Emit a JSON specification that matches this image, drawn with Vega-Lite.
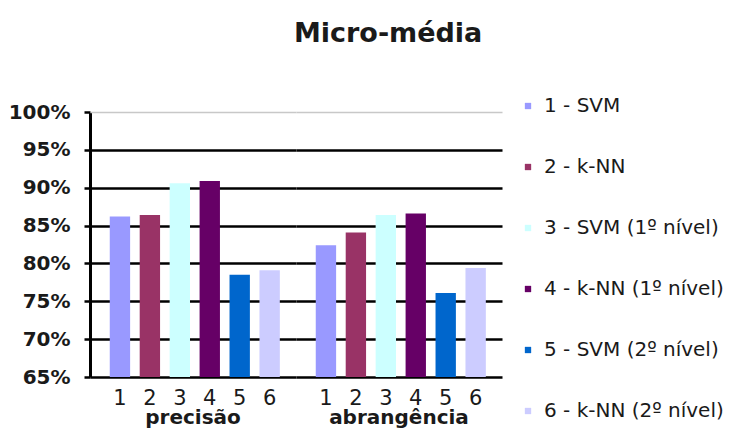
{
  "$schema": "https://vega.github.io/schema/vega-lite/v6.json",
  "background": "white",
  "padding": {"left": 8, "top": 20, "right": 2, "bottom": 0},
  "title": {
    "text": "Micro-média",
    "font": "DejaVu Sans",
    "fontSize": 27,
    "fontWeight": "bold",
    "color": "#1a1a1a",
    "anchor": "middle",
    "dx": 22,
    "offset": 48
  },
  "data": {
    "values": [
      {"grupo": "precisão", "n": "1", "serie": "1 - SVM", "valor": 86.2},
      {"grupo": "precisão", "n": "2", "serie": "2 - k-NN", "valor": 86.4},
      {"grupo": "precisão", "n": "3", "serie": "3 - SVM (1º nível)", "valor": 90.6},
      {"grupo": "precisão", "n": "4", "serie": "4 - k-NN (1º nível)", "valor": 90.9},
      {"grupo": "precisão", "n": "5", "serie": "5 - SVM (2º nível)", "valor": 78.5},
      {"grupo": "precisão", "n": "6", "serie": "6 - k-NN (2º nível)", "valor": 79.1},
      {"grupo": "abrangência", "n": "1", "serie": "1 - SVM", "valor": 82.4},
      {"grupo": "abrangência", "n": "2", "serie": "2 - k-NN", "valor": 84.1},
      {"grupo": "abrangência", "n": "3", "serie": "3 - SVM (1º nível)", "valor": 86.4},
      {"grupo": "abrangência", "n": "4", "serie": "4 - k-NN (1º nível)", "valor": 86.6},
      {"grupo": "abrangência", "n": "5", "serie": "5 - SVM (2º nível)", "valor": 76.1},
      {"grupo": "abrangência", "n": "6", "serie": "6 - k-NN (2º nível)", "valor": 79.4}
    ]
  },
  "facet": {
    "column": {
      "field": "grupo",
      "type": "nominal",
      "sort": ["precisão", "abrangência"],
      "header": {
        "title": null,
        "labelOrient": "bottom",
        "labelFont": "DejaVu Sans",
        "labelFontSize": 20,
        "labelFontWeight": "bold",
        "labelColor": "#1a1a1a",
        "labelPadding": 0
      }
    }
  },
  "spacing": 0,
  "spec": {
    "width": 206,
    "height": 265,
    "mark": {"type": "bar", "clip": true},
    "encoding": {
      "x": {
        "field": "n",
        "type": "ordinal",
        "scale": {"paddingInner": 0.32, "paddingOuter": 0.6, "align": 0.55},
        "axis": {
          "title": null,
          "labelAngle": 0,
          "domain": false,
          "ticks": false,
          "labelFont": "DejaVu Sans",
          "labelFontSize": 21,
          "labelColor": "#1a1a1a",
          "labelPadding": 10
        }
      },
      "y": {
        "field": "valor",
        "type": "quantitative",
        "scale": {"domain": [65, 100], "zero": false, "nice": false},
        "axis": {
          "title": null,
          "values": [65, 70, 75, 80, 85, 90, 95, 100],
          "labelExpr": "datum.value + '%'",
          "labelFont": "DejaVu Sans",
          "labelFontSize": 20,
          "labelFontWeight": "bold",
          "labelColor": "#1a1a1a",
          "labelPadding": 14,
          "tickSize": 6,
          "tickWidth": 2.5,
          "tickColor": "black",
          "domainColor": "black",
          "domainWidth": 3,
          "grid": true,
          "gridColor": {"condition": {"test": "datum.value == 100", "value": "#c8c8c8"}, "value": "black"},
          "gridWidth": {"condition": {"test": "datum.value == 100", "value": 1.5}, "value": 2.5},
          "gridOpacity": 1
        }
      },
      "color": {
        "field": "serie",
        "type": "nominal",
        "scale": {
          "domain": ["1 - SVM", "2 - k-NN", "3 - SVM (1º nível)", "4 - k-NN (1º nível)", "5 - SVM (2º nível)", "6 - k-NN (2º nível)"],
          "range": ["#9999ff", "#993366", "#ccffff", "#660066", "#0066cc", "#ccccff"]
        },
        "legend": {
          "title": null,
          "orient": "none",
          "legendX": 428,
          "legendY": -16,
          "symbolType": "square",
          "symbolSize": 40,
          "symbolStrokeWidth": 0,
          "labelFont": "DejaVu Sans",
          "labelFontSize": 20,
          "labelLimit": 0,
          "labelColor": "#1a1a1a",
          "labelOffset": 6,
          "rowPadding": 41
        }
      }
    }
  },
  "config": {
    "view": {"stroke": null},
    "axis": {"labelOverlap": false}
  }
}
